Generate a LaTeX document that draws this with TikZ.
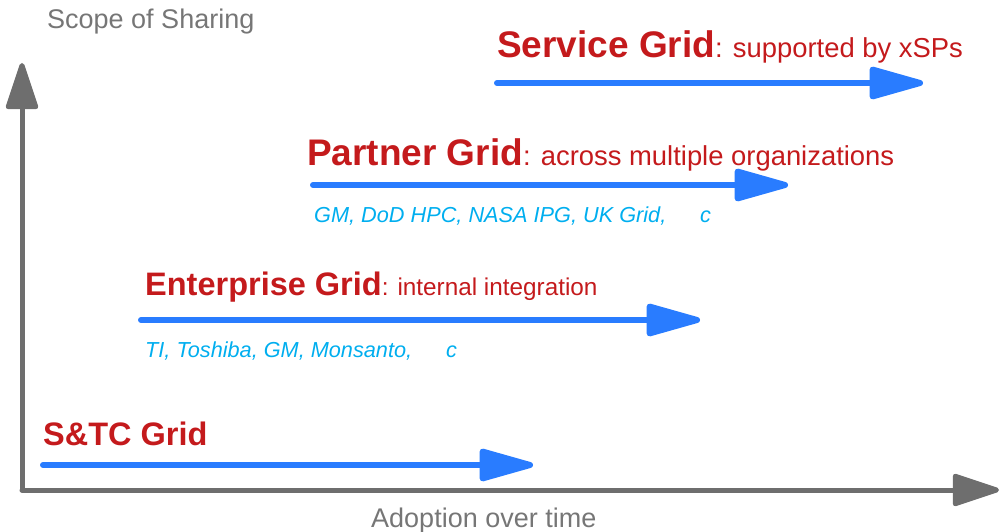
\documentclass[tikz,border=0pt]{standalone}
\usepackage{fontspec}
\setmainfont{Liberation Sans}
\usetikzlibrary{arrows.meta}
\definecolor{gridred}{RGB}{196,26,28}
\definecolor{arrblue}{RGB}{41,124,255}
\definecolor{txtblue}{RGB}{0,174,239}
\definecolor{axgray}{RGB}{110,110,110}
\definecolor{lblgray}{RGB}{118,118,118}
\tikzset{
  axis/.style={draw=axgray, line width=5pt, line cap=round,
    -{Triangle[length=52pt,width=33pt,round]}},
  adopt/.style={draw=arrblue, line width=6pt, line cap=round,
    -{Triangle[length=62pt,width=33pt,round]}},
  title/.style={anchor=base west, inner sep=0pt, text=gridred},
  ex/.style={anchor=base west, inner sep=0pt, text=txtblue, font=\fontsize{21.7}{24}\selectfont\itshape},
  lbl/.style={inner sep=0pt, text=lblgray, font=\fontsize{27}{30}\selectfont}
}
\newcommand{\gbig}[1]{{\fontsize{37}{40}\selectfont\bfseries #1}}
\newcommand{\gmid}[1]{{\fontsize{32.5}{36}\selectfont\bfseries #1}}
\begin{document}
\begin{tikzpicture}[x=1pt,y=-1pt]
\useasboundingbox (0,0) rectangle (1000,532);
% axes
\coordinate (origin) at (22,490);
\coordinate (ytop) at (22,63);
\coordinate (xend) at (999,490);
\draw[axis] (origin) -- (ytop);
\draw[axis] (origin) -- (xend);
\node[lbl, anchor=base west] (ylab) at (47,29) {Scope of Sharing};
\node[lbl, anchor=base west] (xlab) at (371,527) {Adoption over time};
% Service grid
\node[title] (svc) at (497,58) {\gbig{Service Grid}{\fontsize{27.4}{30}\selectfont: supported by xSPs}};
\coordinate (s1) at (497,83);
\coordinate (s2) at (923,83);
\draw[adopt] (s1) -- (s2);
% Partner grid
\node[title] (ptn) at (307,165) {\gbig{Partner Grid}{\fontsize{27.4}{30}\selectfont: across multiple organizations}};
\coordinate (p1) at (313,185);
\coordinate (p2) at (788,185);
\draw[adopt] (p1) -- (p2);
\node[ex] (pex) at (314,222) {GM, DoD HPC, NASA IPG, UK Grid,};
\node[ex] (pexc) at (700,222) {c};
% Enterprise grid
\node[title] (ent) at (145,295) {\gmid{Enterprise Grid}{\fontsize{24.3}{27}\selectfont: internal integration}};
\coordinate (e1) at (141,320);
\coordinate (e2) at (700,320);
\draw[adopt] (e1) -- (e2);
\node[ex] (eex) at (145,357) {TI, Toshiba, GM, Monsanto,};
\node[ex] (eexc) at (446,357) {c};
% S&TC grid
\node[title] (stc) at (43,445) {\gmid{S\&TC Grid}};
\coordinate (t1) at (43,465);
\coordinate (t2) at (533,465);
\draw[adopt] (t1) -- (t2);
\end{tikzpicture}
\end{document}
